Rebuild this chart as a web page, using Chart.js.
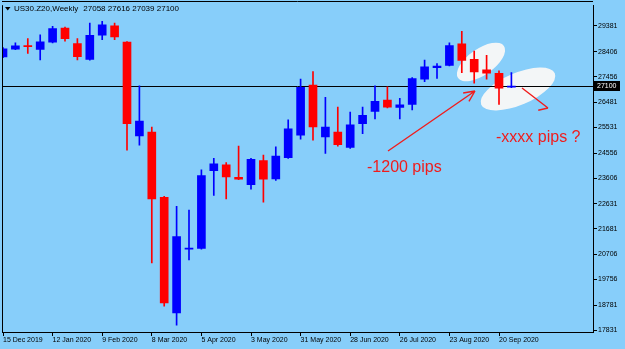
<!DOCTYPE html>
<html>
<head>
<meta charset="utf-8">
<script src="https://cdn.jsdelivr.net/npm/chart.js@4.4.1/dist/chart.umd.min.js"></script>
<style>
  html, body { margin: 0; padding: 0; background: #87cefa; }
  #wrap { width: 625px; height: 349px; position: relative; }
</style>
</head>
<body>
<div id="wrap"><canvas id="chart" width="625" height="349"></canvas></div>
<script>
// US30.Z20 weekly candles
const weeks = [
  "15 Dec 2019", "22 Dec 2019", "29 Dec 2019", "5 Jan 2020", "12 Jan 2020", "19 Jan 2020",
  "26 Jan 2020", "2 Feb 2020", "9 Feb 2020", "16 Feb 2020", "23 Feb 2020", "1 Mar 2020",
  "8 Mar 2020", "15 Mar 2020", "22 Mar 2020", "29 Mar 2020", "5 Apr 2020", "12 Apr 2020",
  "19 Apr 2020", "26 Apr 2020", "3 May 2020", "10 May 2020", "17 May 2020", "24 May 2020",
  "31 May 2020", "7 Jun 2020", "14 Jun 2020", "21 Jun 2020", "28 Jun 2020", "5 Jul 2020",
  "12 Jul 2020", "19 Jul 2020", "26 Jul 2020", "2 Aug 2020", "9 Aug 2020", "16 Aug 2020",
  "23 Aug 2020", "30 Aug 2020", "6 Sep 2020", "13 Sep 2020", "20 Sep 2020", "27 Sep 2020"
];

const open = [
  28210, 28496, 28628, 28489, 28767, 29305, 28715, 28113, 29030, 29392, 28767, 25205,
  25355, 22872, 18482, 20905, 20927, 23888, 24102, 23636, 23350, 24264, 23576, 24377,
  25231, 27134, 25167, 25355, 24764, 25667, 26134, 26570, 26284, 26397, 27360, 27800,
  27887, 28703, 28113, 27714, 27586, 27058
];
const high = [
  28560, 28741, 28902, 29042, 29369, 29343, 28902, 29493, 29557, 29493, 28790, 27110,
  25543, 22910, 22534, 22383, 23914, 24351, 24189, 24817, 24351, 24479, 24791, 25818,
  27360, 27650, 26672, 26296, 26107, 26296, 27112, 27074, 26634, 27424, 28090, 27951,
  28741, 29181, 28428, 28263, 27676, 27616
];
const low = [
  28180, 28478, 28338, 28090, 28741, 28805, 28090, 28085, 28865, 28865, 24667, 24855,
  20378, 18734, 18019, 20491, 20900, 22947, 22808, 23540, 23184, 22684, 23512, 24350,
  25080, 25043, 24539, 24817, 24727, 25291, 25855, 26269, 25855, 26194, 27262, 27386,
  27860, 27612, 27210, 27360, 26397, 27039
];
const close = [
  28510, 28628, 28595, 28778, 29279, 28903, 28214, 29030, 29429, 28967, 25667, 25769,
  22808, 18858, 21379, 20928, 23700, 24140, 23651, 23561, 24313, 23561, 24441, 25479,
  27048, 25543, 25543, 24877, 25630, 25983, 26521, 26296, 26382, 27386, 27827, 27857,
  28639, 28075, 27639, 27586, 27022, 27100
];

const priceTicks = [29381, 28406, 27456, 26481, 25531, 24556, 23606, 22631, 21681, 20706, 19756, 18781, 17831];
const dateTickEvery = 4;

const BULL = "#0000ff";
const BEAR = "#ff0000";
const FONT = "'Liberation Sans', Arial, sans-serif";

const candleColor = (i) => (close[i] >= open[i] ? BULL : BEAR);

const drawArrow = (ctx, x1, y1, x2, y2, wings) => {
  ctx.beginPath();
  ctx.moveTo(x1, y1);
  ctx.lineTo(x2, y2);
  const back = Math.atan2(y1 - y2, x1 - x2);
  wings.forEach((w) => {
    ctx.moveTo(x2, y2);
    ctx.lineTo(x2 + w.len * Math.cos(back + w.ang), y2 + w.len * Math.sin(back + w.ang));
  });
  ctx.stroke();
};

// MT4 style decorations: frame, price line, drawn objects, title
const mt4Overlay = {
  id: "mt4Overlay",
  beforeDatasetsDraw(chart) {
    const { ctx, chartArea: a, scales } = chart;
    ctx.save();
    ctx.fillStyle = "rgba(247,247,247,0.97)";
    ctx.beginPath();
    ctx.ellipse(481, 62, 28, 13, -35 * Math.PI / 180, 0, Math.PI * 2);
    ctx.fill();
    ctx.beginPath();
    ctx.ellipse(518, 89, 40, 16, -23 * Math.PI / 180, 0, Math.PI * 2);
    ctx.fill();

    const py = Math.round(scales.y.getPixelForValue(close[close.length - 1])) + 0.5;
    ctx.strokeStyle = "#000";
    ctx.lineWidth = 1;
    ctx.beginPath();
    ctx.moveTo(a.left, py);
    ctx.lineTo(a.right, py);
    ctx.stroke();
    ctx.restore();
  },
  afterDatasetsDraw(chart) {
    const { ctx, chartArea: a, scales } = chart;
    ctx.save();

    // frame left / top
    ctx.strokeStyle = "#000";
    ctx.lineWidth = 1;
    ctx.beginPath();
    ctx.moveTo(a.left + 0.5, a.top);
    ctx.lineTo(a.left + 0.5, a.bottom);
    ctx.moveTo(a.left, 1.5);
    ctx.lineTo(a.right, 1.5);
    ctx.stroke();

    // annotations
    ctx.strokeStyle = "#f01c1c";
    ctx.lineWidth = 1.4;
    drawArrow(ctx, 388, 151, 475, 91, [{ ang: 0.44, len: 12 }, { ang: -0.44, len: 12 }]);
    drawArrow(ctx, 522, 88, 548, 108, [{ ang: -0.88, len: 10 }]);

    ctx.fillStyle = "#f01c1c";
    ctx.font = "16px " + FONT;
    ctx.textBaseline = "alphabetic";
    ctx.textAlign = "left";
    ctx.fillText("-1200 pips", 367, 172);
    ctx.fillText("-xxxx pips ?", 496, 142);

    // current price label on the axis
    const last = close.length - 1;
    const py = Math.round(scales.y.getPixelForValue(close[last]));
    ctx.fillStyle = "#000";
    ctx.fillRect(a.right + 1, py - 5, 26, 10);
    ctx.fillStyle = "#fff";
    ctx.font = "7px " + FONT;
    ctx.textBaseline = "middle";
    ctx.fillText(String(close[last]), a.right + 4, py + 0.5);

    // title
    ctx.fillStyle = "#000";
    ctx.beginPath();
    ctx.moveTo(5, 7);
    ctx.lineTo(10.5, 7);
    ctx.lineTo(7.75, 10.5);
    ctx.closePath();
    ctx.fill();
    ctx.font = "8px " + FONT;
    ctx.textBaseline = "alphabetic";
    const name = "US30.Z20,Weekly";
    ctx.fillText(name, 14, 11);
    const nx = 14 + ctx.measureText(name).width + 5;
    ctx.fillText([open[last], high[last], low[last], close[last]].join(" "), nx, 11);
    ctx.restore();
  },
};

const wickData = weeks.map((w, i) => ({ x: i, y: [low[i], high[i]] }));
const bodyData = weeks.map((w, i) => ({ x: i, y: [open[i], close[i]] }));
const colors = weeks.map((w, i) => candleColor(i));

const PX_PER_WEEK = 12.4;
const PLOT_W = 591;
const xMin = -1 / PX_PER_WEEK;

new Chart(document.getElementById("chart").getContext("2d"), {
  type: "bar",
  data: {
    datasets: [
      {
        data: wickData,
        backgroundColor: colors,
        barThickness: 1,
        grouped: false,
        clip: 0,
      },
      {
        data: bodyData,
        backgroundColor: colors,
        barThickness: 8,
        minBarLength: 1,
        grouped: false,
        clip: 0,
      },
    ],
  },
  options: {
    responsive: false,
    animation: false,
    events: [],
    layout: { padding: { left: 2, top: 2, right: 0, bottom: 0 } },
    plugins: { legend: { display: false }, tooltip: { enabled: false } },
    scales: {
      x: {
        type: "linear",
        offset: false,
        min: xMin,
        max: xMin + PLOT_W / PX_PER_WEEK,
        afterFit: (s) => { s.height = 17; },
        afterBuildTicks: (s) => {
          s.ticks = weeks.map((w, i) => i).filter((i) => i % dateTickEvery === 0).map((i) => ({ value: i }));
        },
        ticks: {
          autoSkip: false,
          maxRotation: 0,
          align: "start",
          padding: 0,
          color: "#000",
          font: { family: FONT, size: 7 },
          callback: (v) => weeks[v],
        },
        grid: { offset: false, drawOnChartArea: false, tickLength: 4, tickColor: "#000" },
        border: { color: "#000", width: 1 },
      },
      y: {
        position: "right",
        min: 17756,
        max: 30171,
        afterFit: (s) => { s.width = 32; },
        afterBuildTicks: (s) => { s.ticks = priceTicks.map((v) => ({ value: v })); },
        ticks: {
          padding: 1,
          color: "#000",
          font: { family: FONT, size: 7 },
          callback: (v) => String(v),
        },
        grid: { drawOnChartArea: false, tickLength: 4, tickColor: "#000" },
        border: { color: "#000", width: 1 },
      },
    },
  },
  plugins: [mt4Overlay],
});
</script>
</body>
</html>
